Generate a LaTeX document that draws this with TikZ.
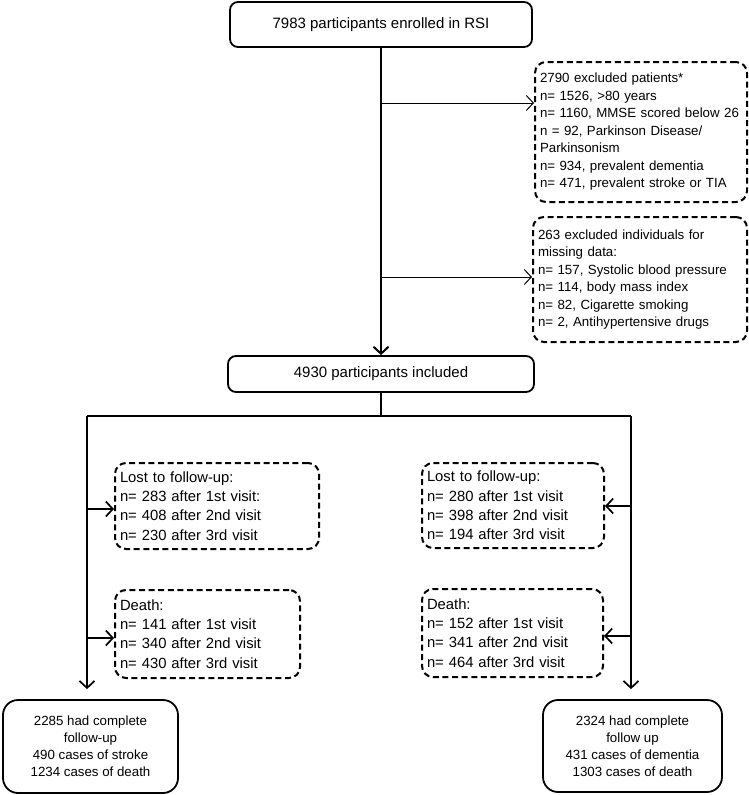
\documentclass[tikz,border=0pt]{standalone}
\usepackage{fontspec}
\setmainfont{Liberation Sans}
\usepackage{tikz}
\usetikzlibrary{arrows.meta}

\tikzset{
  solidbox/.style={draw, line width=1.8pt, rounded corners=8pt, align=center, inner sep=0pt},
  finalbox/.style={draw, line width=1.8pt, rounded corners=15pt, align=center, inner sep=0pt,
    font=\fontsize{13.3}{17}\selectfont},
  dashbox/.style={draw, line width=2pt, dash pattern=on 6pt off 3.6pt, rounded corners=11pt,
    align=left, inner xsep=5pt, inner ysep=0pt},
  exclfont/.style={font=\fontsize{13.3}{17.5}\selectfont},
  lostfont/.style={font=\fontsize{14.8}{19.4}\selectfont},
  >={Straight Barb[length=7pt,width=15pt]}
}

\begin{document}
\begin{tikzpicture}[x=1pt, y=-1pt]
\useasboundingbox (0,0) rectangle (749,795);

\node [solidbox, minimum width=302pt, minimum height=45pt, font=\fontsize{15}{18}\selectfont] (enrol) at (381,24.5) {7983 participants enrolled in RSI};

\node [dashbox, exclfont, minimum width=212pt, minimum height=140pt, text width=202pt] (excl1) at (641,132) {2790 excluded patients*\\ n= 1526, >80 years\\ n= 1160, MMSE scored below 26\\ n = 92, Parkinson Disease/\\ Parkinsonism\\ n= 934, prevalent dementia\\ n= 471, prevalent stroke or TIA};

\node [dashbox, exclfont, minimum width=214pt, minimum height=125pt, text width=204pt] (excl2) at (640,279.5) {263 excluded individuals for\\ missing data:\\ n= 157, Systolic blood pressure\\ n= 114, body mass index\\ n= 82, Cigarette smoking\\ n= 2, Antihypertensive drugs};

\node [solidbox, minimum width=306pt, minimum height=36pt, font=\fontsize{15}{18}\selectfont] (incl) at (381,374) {4930 participants included};

% follow-up, left arm
\node [dashbox, lostfont, minimum width=204pt, minimum height=86pt, text width=194pt] (lostL) at (217,506) {Lost to follow-up:\\ n= 283 after 1st visit:\\ n= 408 after 2nd visit\\ n= 230 after 3rd visit};
\node [dashbox, lostfont, minimum width=185pt, minimum height=88pt, text width=175pt] (deathL) at (207.5,634) {Death:\\ n= 141 after 1st visit\\ n= 340 after 2nd visit\\ n= 430 after 3rd visit};
\node [finalbox, minimum width=175pt, minimum height=93pt] (finL) at (90.5,746.5) {2285 had complete\\ follow-up\\ 490 cases of stroke\\ 1234 cases of death};

% follow-up, right arm
\node [dashbox, lostfont, minimum width=182pt, minimum height=85pt, text width=172pt] (lostR) at (513,505.5) {Lost to follow-up:\\ n= 280 after 1st visit\\ n= 398 after 2nd visit\\ n= 194 after 3rd visit};
\node [dashbox, lostfont, minimum width=181pt, minimum height=88pt, text width=171pt] (deathR) at (512.5,633) {Death:\\ n= 152 after 1st visit\\ n= 341 after 2nd visit\\ n= 464 after 3rd visit};
\node [finalbox, minimum width=179pt, minimum height=92pt] (finR) at (632.5,746) {2324 had complete\\ follow up\\ 431 cases of dementia\\ 1303 cases of death};

\coordinate (t1) at (381,103);
\coordinate (t2) at (381,277);
\coordinate (lb) at (87,416);
\coordinate (rb) at (631,416);

\draw [->, line width=2pt] (enrol.south) -- (incl.north);
\draw [->, line width=1pt] (t1) -- (t1 -| excl1.west);
\draw [->, line width=1pt] (t2) -- (t2 -| excl2.west);

\draw [line width=1.2pt] (incl.south) -- (incl.south |- lb);
\draw [line width=1.2pt] (lb) -- (rb);
\draw [->, line width=1.7pt, shorten >=10pt] (lb) -- (lb |- finL.north);
\draw [->, line width=1.7pt, shorten >=10pt] (rb) -- (rb |- finR.north);

\draw [->, line width=1.7pt] (lb |- 0,509) -- (lostL.west |- 0,509);
\draw [->, line width=1.7pt] (lb |- 0,638) -- (deathL.west |- 0,638);
\draw [->, line width=1.7pt] (rb |- 0,506) -- (lostR.east |- 0,506);
\draw [->, line width=1.7pt] (rb |- 0,636) -- (deathR.east |- 0,636);
\end{tikzpicture}
\end{document}
